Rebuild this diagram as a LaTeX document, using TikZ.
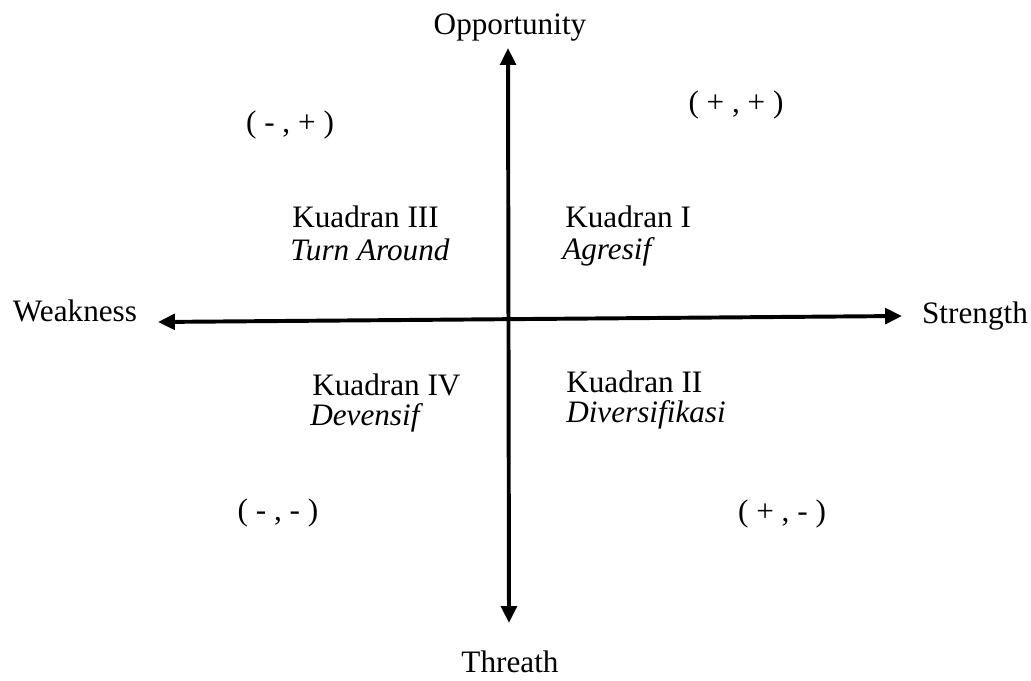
\documentclass[tikz,border=0pt]{standalone}
\usepackage{fontspec}
\setmainfont{Liberation Serif}
\usetikzlibrary{arrows.meta}

\begin{document}
\begin{tikzpicture}[scale = 1,
  every node/.style={font=\fontsize{22.2}{26}\selectfont},
  axis/.style={line width=2.8pt, <->, >={Triangle[length=12pt,width=11pt]}},
  quad/.style={anchor=west, inner sep=0pt}]

\useasboundingbox (0,0) rectangle (25.775,17);

% axis end points
\coordinate (opp) at (12.7,15.8);
\coordinate (thr) at (12.725,1.425);
\coordinate (weak) at (3.95,8.95);
\coordinate (str) at (22.55,9.1);

\draw [axis] (thr) -- (opp);
\draw [axis] (weak) -- (str);

\node (lopp) at (12.75,16.3) {Opportunity};
\node (lthr) at (12.75,0.45) {Threath};
\node (lweak) at (1.875,9.225) {Weakness};
\node (lstr) at (24.375,9.1) {Strength};

\node (smp) at (7.25,13.875) {( - , + )};
\node (spp) at (18.4,14.375) {( + , + )};
\node (smm) at (6.95,4.175) {( - , - )};
\node (spm) at (19.55,4.15) {( + , - )};

\node[quad] (q3) at (7.3,11.575) {Kuadran III};
\node[quad] (q3s) at (7.25,10.75) {\itshape Turn Around};
\node[quad] (q1) at (14.125,11.575) {Kuadran I};
\node[quad] (q1s) at (14.05,10.7) {\itshape Agresif};
\node[quad] (q4) at (7.8,7.375) {Kuadran IV};
\node[quad] (q4s) at (7.75,6.55) {\itshape Devensif};
\node[quad] (q2) at (14.15,7.45) {Kuadran II};
\node[quad] (q2s) at (14.15,6.625) {\itshape Diversifikasi};

\end{tikzpicture}
\end{document}
